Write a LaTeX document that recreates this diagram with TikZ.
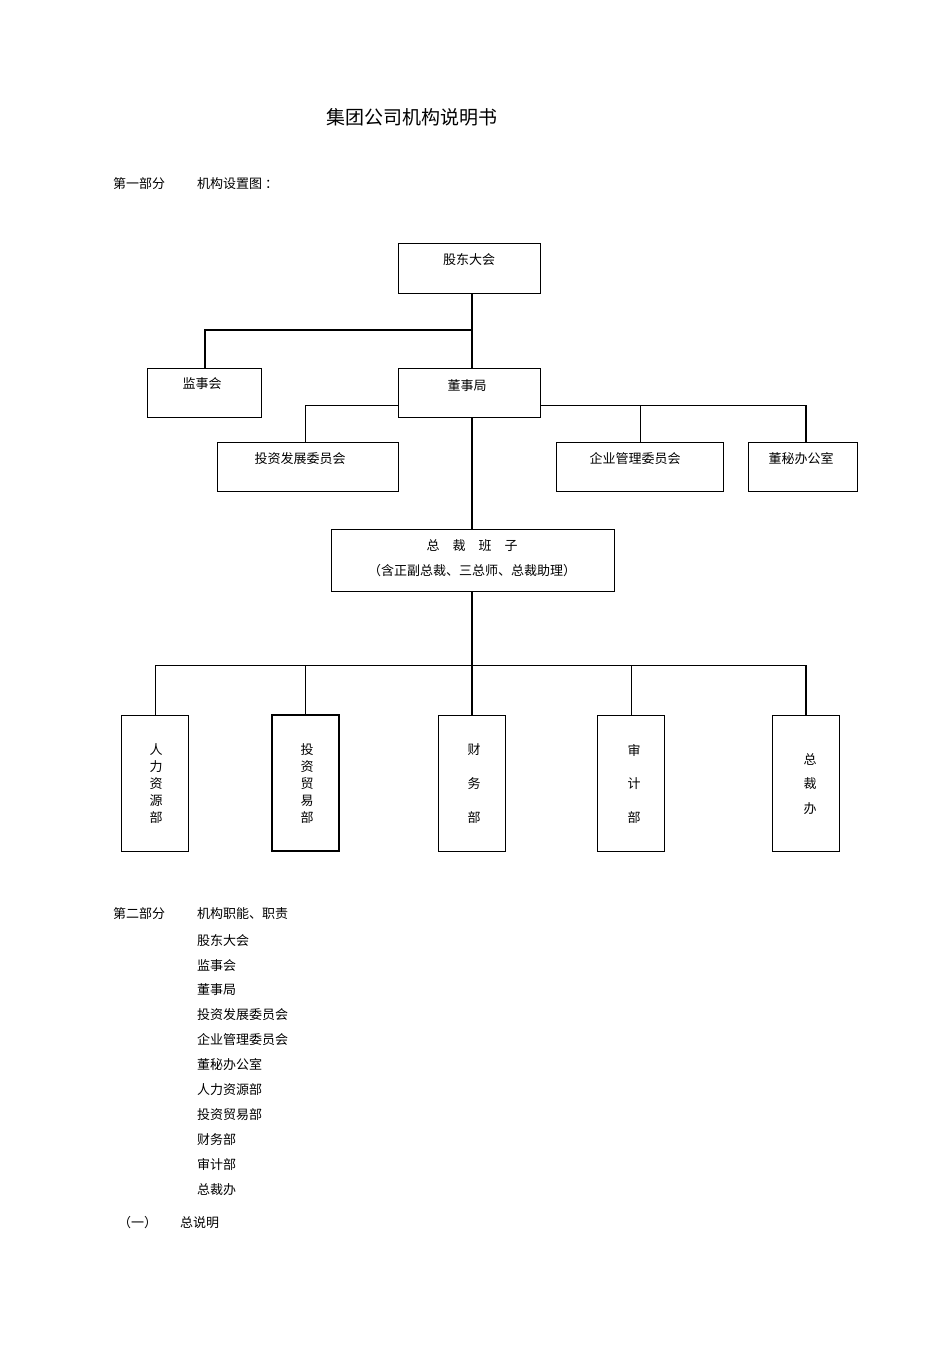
\documentclass[tikz,border=0pt]{standalone}
\usepackage{fontspec}
\setmainfont{Noto Sans CJK SC}
\begin{document}
\begin{tikzpicture}[x=1pt,y=-1pt,
  bx/.style={draw,line width=0.9pt,inner sep=0},
  ln/.style={line width=0.6pt},
  th/.style={line width=1.6pt},
  tx/.style={font=\fontsize{13}{15}\selectfont,inner sep=0},
  lt/.style={font=\fontsize{13}{15}\selectfont,inner sep=0,anchor=west}]
\useasboundingbox (0,0) rectangle (950,1345);
\node[font=\fontsize{19}{21}\selectfont] (title) at (412,117) {集团公司机构说明书};
\node[lt] (p1) at (113,184) {第一部分};
\node[lt] (p1b) at (197,184) {机构设置图 ：};
% boxes
\draw[bx] (398,243) rectangle (540,293); \node[tx] (gd) at (469,260) {股东大会};
\draw[bx] (147,368) rectangle (261,417); \node[tx] (js) at (202,384) {监事会};
\draw[bx] (398,368) rectangle (540,417); \node[tx] (ds) at (467,386) {董事局};
\draw[bx] (217,442) rectangle (398,491); \node[tx] (tz) at (300,459) {投资发展委员会};
\draw[bx] (556,442) rectangle (723,491); \node[tx] (qy) at (635,459) {企业管理委员会};
\draw[bx] (748,442) rectangle (857,491); \node[tx] (dm) at (801,459) {董秘办公室};
\draw[bx] (331,529) rectangle (614,591);
\node[tx] (zc1) at (472,546) {总\hspace{1em}裁\hspace{1em}班\hspace{1em}子};
\node[tx] (zc2) at (472,571) {（含正副总裁、三总师、总裁助理）};
% spine
\coordinate (a1) at (472,293); \coordinate (a2) at (472,368);
\draw[th] (a1) -- (a2);
\draw[th] (472,330) -- (205,330) -- (205,368);
\draw[ln] (305,442) -- (305,405) -- (398,405);
\draw[ln] (540,405) -- (806,405);
\draw[ln] (640,405) -- (640,442);
\draw[th] (806,405) -- (806,442);
\draw[th] (472,417) -- (472,529);
\draw[th] (472,591) -- (472,715);
\draw[ln] (155,715) -- (155,665) -- (806,665);
\draw[ln] (305,665) -- (305,715);
\draw[ln] (631,665) -- (631,715);
\draw[th] (806,665) -- (806,715);
% bottom boxes
\foreach \c/\n in {155/rl,305/ty,472/cw,631/sj,806/zb}{
  \draw[bx] (\c-33.5,715) rectangle (\c+33.5,851);}
\draw[th] (272,715) rectangle (339,851);
\foreach \t [count=\i] in {人,力,资,源,部}{\node[tx] at (156,733+17*\i) {\t};}
\foreach \t [count=\i] in {投,资,贸,易,部}{\node[tx] at (307,733+17*\i) {\t};}
\foreach \t [count=\i] in {财,务,部}{\node[tx] at (474,716+34*\i) {\t};}
\foreach \t [count=\i] in {审,计,部}{\node[tx] at (634,716+34*\i) {\t};}
\foreach \t [count=\i] in {总,裁,办}{\node[tx] at (810,734+25*\i) {\t};}
% part 2
\node[lt] (p2) at (113,914) {第二部分};
\node[lt] (p2b) at (197,914) {机构职能、职责};
\foreach \t/\y in {股东大会/941,监事会/966,董事局/990,投资发展委员会/1015,企业管理委员会/1040,董秘办公室/1065,人力资源部/1090,投资贸易部/1115,财务部/1140,审计部/1164,总裁办/1190}{
  \node[lt] at (197,\y) {\t};}
\node[lt] (y1) at (118,1223) {（一）};
\node[lt] (y2) at (180,1223) {总说明};
\end{tikzpicture}
\end{document}
